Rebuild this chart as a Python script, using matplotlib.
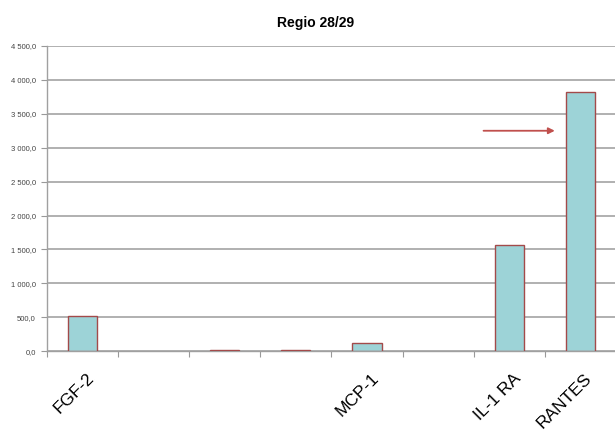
import matplotlib.pyplot as plt
import matplotlib.transforms as mtransforms
import numpy as np

plt.rcParams['font.family'] = ['Liberation Sans', 'DejaVu Sans']

# Cytokine concentrations per marker slot
categories = ['FGF-2', '', '', '', 'MCP-1', '', 'IL-1 RA', 'RANTES']
values = [520, 0, 12, 10, 120, 0, 1560, 3820]
y_ticks = [0, 500, 1000, 1500, 2000, 2500, 3000, 3500, 4000, 4500]

fig = plt.figure(figsize=(6.15, 4.34), dpi=100)
ax = fig.add_axes([0.0764, 0.191, 0.925, 0.703])

x = np.arange(len(categories))
vals = np.array(values, dtype=float)
vals[vals == 0] = np.nan
ax.bar(x, vals, width=0.41, color='#9dd3d7', edgecolor='#a34a4a',
       linewidth=1.0, zorder=3)

# highlight arrow towards RANTES
ax.annotate('', xy=(6.68, 3250), xytext=(5.6, 3250),
            arrowprops=dict(arrowstyle='-|>', color='#c0504d', lw=1.3,
                            mutation_scale=9), zorder=4)

ax.set_xlim(-0.5, len(categories) - 0.5)
ax.set_ylim(0, 4500)
ax.set_yticks(y_ticks)
ax.set_yticklabels([f'{v:,.1f}'.replace(',', ' ').replace('.', ',') for v in y_ticks],
                   fontsize=5.5, color='#444444')
ax.yaxis.grid(True, color='#b0b0b0', linewidth=1.4, zorder=0)
ax.tick_params(axis='y', length=4, width=0.8, color='#999999', pad=4)

# category labels under bars, tick marks between slots
ax.set_xticks(x)
ax.set_xticklabels(categories, rotation=45, ha='right', va='top',
                   rotation_mode='anchor', fontsize=12.5)
ax.tick_params(axis='x', length=0, pad=14)
shift = mtransforms.ScaledTranslation(0.04, 0, fig.dpi_scale_trans)
for lbl in ax.get_xticklabels():
    lbl.set_transform(lbl.get_transform() + shift)
ax.set_xticks(np.arange(-0.5, len(categories), 1), minor=True)
ax.tick_params(axis='x', which='minor', length=4, width=0.8, color='#999999')

for side in ['top', 'right']:
    ax.spines[side].set_visible(False)
for side in ['left', 'bottom']:
    ax.spines[side].set_color('#a0a0a0')
    ax.spines[side].set_linewidth(1.0)

fig.text(0.513, 0.948, 'Regio 28/29', ha='center', va='center',
         fontsize=10, fontweight='bold')

fig.savefig('out.png', dpi=100)
